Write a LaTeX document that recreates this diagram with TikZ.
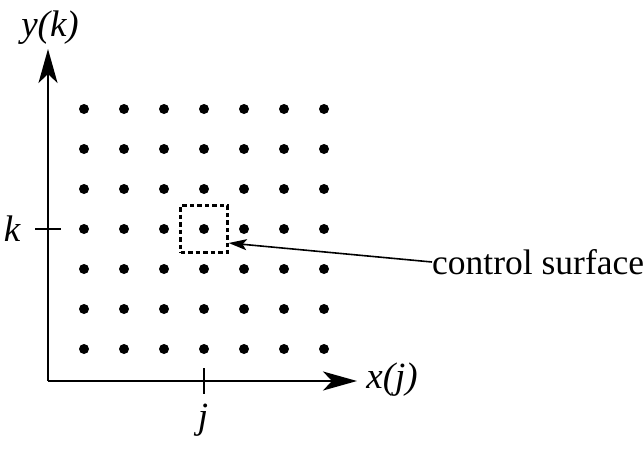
\documentclass[tikz,border=0pt]{standalone}
\usepackage{fontspec}
\setmainfont{Liberation Serif}
\usetikzlibrary{arrows.meta}
\begin{document}
\begin{tikzpicture}[x=1pt,y=-1pt,
  gdot/.style={circle,fill=black,inner sep=0pt,minimum size=10pt},
  axis/.style={line width=2pt,-{Stealth[length=34pt,width=19pt,inset=9pt]}},
  tickline/.style={line width=1.8pt},
  lbl/.style={font=\fontsize{37}{40}\selectfont\itshape,inner sep=0pt},
  cbox/.style={draw,dash pattern=on 4.5pt off 3pt,line width=2.4pt,minimum size=47pt,inner sep=0pt},
  ptr/.style={line width=1.6pt,-{Stealth[length=18pt,width=11pt,inset=4pt]}}]
\useasboundingbox (0,0) rectangle (643,456);
\coordinate (O) at (48,381);
\coordinate (ytop) at (48,49);
\coordinate (xend) at (357,381);
\draw[axis] (O) -- (ytop);
\draw[axis] (O) -- (xend);
\foreach \i in {0,...,6}{
  \foreach \r in {0,...,6}{
    \node[gdot] (d-\i-\r) at ({84+40*\i},{109+40*\r}) {};
  }
}
\node[cbox] (cs) at (204,229) {};
% ticks
\coordinate (kt1) at (35,229);
\coordinate (kt2) at (61,229);
\draw[tickline] (kt1) -- (kt2);
\coordinate (jt1) at (204,368);
\coordinate (jt2) at (204,394);
\draw[tickline] (jt1) -- (jt2);
\node[lbl] (ylab) at (50,28) {y(k)};
\node[lbl] (xlab) at (392,380) {x(j)};
\node[lbl] (klab) at (12,229) {k};
\node[lbl] (jlab) at (203,420) {j};
\node[font=\fontsize{35.5}{40}\selectfont,inner sep=0pt,anchor=west] (clab) at (432,262) {control surface};
\draw[ptr] (clab.west) -- (cs.east |- 0,243);
\end{tikzpicture}
\end{document}
